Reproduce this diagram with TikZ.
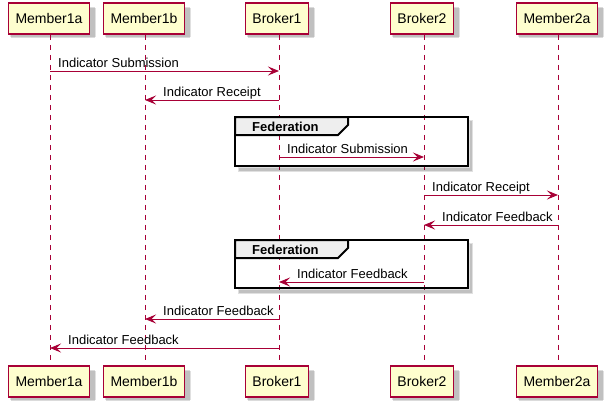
\documentclass[tikz,border=0pt]{standalone}
\usepackage{fontspec}
\setmainfont{Liberation Sans}
\usetikzlibrary{arrows.meta}
\definecolor{plborder}{HTML}{A80036}
\definecolor{plfill}{HTML}{FEFECE}
\definecolor{pltab}{HTML}{EEEEEE}
\tikzset{
  part/.style={draw=plborder, fill=plfill, line width=1.5pt, minimum height=31pt, inner xsep=7pt, inner ysep=0pt, font=\fontsize{14}{16}\selectfont},
  lifeline/.style={draw=plborder, line width=1pt, dash pattern=on 5pt off 5pt},
  msg/.style={draw=plborder, line width=1pt, -{Stealth[length=11pt, width=9pt, inset=4.5pt]}},
  lbl/.style={anchor=base west, inner sep=0pt, font=\fontsize{13}{15}\selectfont},
  grp/.style={draw=black, line width=2pt},
}
\newcommand{\pshadow}[1]{%
  \fill[black, opacity=0.12] ([xshift=2pt,yshift=-2pt]#1.south west) rectangle ([xshift=6pt,yshift=-6pt]#1.north east);
  \fill[black, opacity=0.14] ([xshift=3pt,yshift=-3pt]#1.south west) rectangle ([xshift=5pt,yshift=-5pt]#1.north east);
}
\begin{document}
\begin{tikzpicture}[x=1pt,y=-1pt]
\useasboundingbox (0,0) rectangle (608,408);
% participant positions
\coordinate (x1) at (50,0);
\coordinate (x2) at (145,0);
\coordinate (x3) at (279,0);
\coordinate (x4) at (424,0);
\coordinate (x5) at (558,0);
% invisible boxes for shadows
\foreach \n/\t/\xx in {p1/Member1a/49, p2/Member1b/144, p3/Broker1/277, p4/Broker2/422, p5/Member2a/557}{
  \node[part, opacity=0] (\n t) at (\xx,18.5) {\t};
  \node[part, opacity=0] (\n b) at (\xx,381.5) {\t};
}
\foreach \n in {p1t,p2t,p3t,p4t,p5t,p1b,p2b,p3b,p4b,p5b}{\pshadow{\n}}
% lifelines
\foreach \i in {1,...,5}{\draw[lifeline] (x\i |- p\i t.south) -- (x\i |- p\i b.north);}
% boxes
\node[part] (P1t) at (49,18.5) {Member1a};
\node[part] (P2t) at (144,18.5) {Member1b};
\node[part] (P3t) at (277,18.5) {Broker1};
\node[part] (P4t) at (422,18.5) {Broker2};
\node[part] (P5t) at (557,18.5) {Member2a};
\node[part] (P1b) at (49,381.5) {Member1a};
\node[part] (P2b) at (144,381.5) {Member1b};
\node[part] (P3b) at (277,381.5) {Broker1};
\node[part] (P4b) at (422,381.5) {Broker2};
\node[part] (P5b) at (557,381.5) {Member2a};
% groups
\foreach \ya/\yb/\g in {117/166/g1, 240/288/g2}{
  \fill[black, opacity=0.12] (238,\yb+1) rectangle (473,\yb+6);
  \fill[black, opacity=0.12] (469,\ya+3) rectangle (473,\yb+1);
  \fill[black, opacity=0.14] (239,\yb+2) rectangle (472,\yb+5);
  \fill[black, opacity=0.14] (470,\ya+4) rectangle (472,\yb+2);
  \draw[grp, fill=pltab] (235,\ya) -- (348,\ya) -- (348,\ya+8) -- (338,\ya+18) -- (235,\ya+18) -- cycle;
  \draw[grp] (235,\ya) rectangle (468,\yb);
  \node[lbl, font=\fontsize{13}{15}\selectfont\bfseries] (\g) at (252,\ya+14.5) {Federation};
}
% messages
\draw[msg] (x1 |- 0,71) -- (x3 |- 0,71);
\node[lbl] (l1) at (58,67) {Indicator Submission};
\draw[msg] (x3 |- 0,100) -- (x2 |- 0,100);
\node[lbl] (l2) at (163,96) {Indicator Receipt};
\draw[msg] (x3 |- 0,157) -- (x4 |- 0,157);
\node[lbl] (l3) at (287,153) {Indicator Submission};
\draw[msg] (x4 |- 0,195) -- (x5 |- 0,195);
\node[lbl] (l4) at (432,191) {Indicator Receipt};
\draw[msg] (x5 |- 0,225) -- (x4 |- 0,225);
\node[lbl] (l5) at (442,221) {Indicator Feedback};
\draw[msg] (x4 |- 0,282) -- (x3 |- 0,282);
\node[lbl] (l6) at (297,278) {Indicator Feedback};
\draw[msg] (x3 |- 0,319) -- (x2 |- 0,319);
\node[lbl] (l7) at (163,315) {Indicator Feedback};
\draw[msg] (x3 |- 0,348) -- (x1 |- 0,348);
\node[lbl] (l8) at (68,344) {Indicator Feedback};
\end{tikzpicture}
\end{document}
